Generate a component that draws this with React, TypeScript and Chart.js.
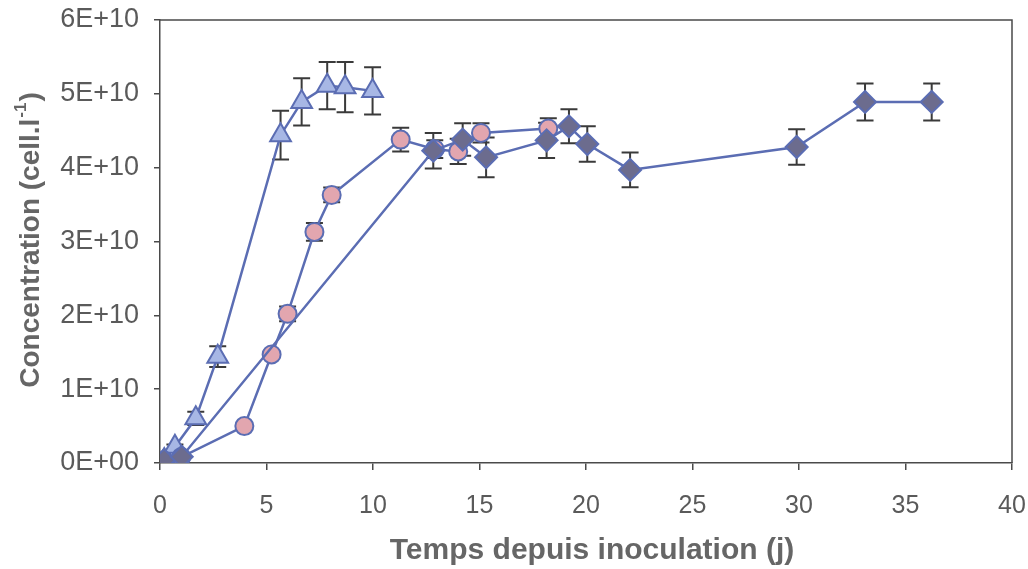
import React, { useEffect, useRef } from "react";
import { Chart, registerables } from "chart.js";

Chart.register(...registerables);

// Time since inoculation (days), concentration (cells per litre) and standard deviation
const triX = [0.2, 0.7, 1.68, 2.71, 5.66, 6.65, 7.85, 8.69, 9.98];
const triY = [0.04e10, 0.22e10, 0.605e10, 1.44e10, 4.44e10, 4.89e10, 5.11e10, 5.09e10, 5.04e10];
const triErr = [0, 0.03e10, 0.09e10, 0.14e10, 0.33e10, 0.32e10, 0.32e10, 0.34e10, 0.32e10];

const cirX = [0.2, 1.0, 3.96, 5.24, 5.99, 7.25, 8.06, 11.3, 12.9, 14.0, 15.07, 18.23];
const cirY = [0.03e10, 0.08e10, 0.5e10, 1.47e10, 2.02e10, 3.13e10, 3.63e10, 4.38e10, 4.25e10, 4.22e10, 4.47e10, 4.53e10];
const cirErr = [0, 0, 0.03e10, 0.05e10, 0.1e10, 0.12e10, 0.1e10, 0.16e10, 0.12e10, 0.17e10, 0.13e10, 0.14e10];

const diaX = [0.19, 1.02, 12.83, 14.21, 15.31, 18.15, 19.2, 20.06, 22.07, 29.89, 33.1, 36.23];
const diaY = [0.04e10, 0.085e10, 4.23e10, 4.38e10, 4.14e10, 4.37e10, 4.56e10, 4.32e10, 3.97e10, 4.28e10, 4.89e10, 4.89e10];
const diaErr = [0, 0, 0.24e10, 0.22e10, 0.27e10, 0.24e10, 0.23e10, 0.24e10, 0.235e10, 0.24e10, 0.25e10, 0.25e10];

const xTicks = [0, 5, 10, 15, 20, 25, 30, 35, 40];
const yTicks = [0, 1e10, 2e10, 3e10, 4e10, 5e10, 6e10];
const yTickLabels = ["0E+00", "1E+10", "2E+10", "3E+10", "4E+10", "5E+10", "6E+10"];

const xTitle = "Temps depuis inoculation (j)";
const yTitleMain = "Concentration (cell.l";
const yTitleSup = "-1";
const yTitleEnd = ")";

const FONT = "'Liberation Sans', Arial, sans-serif";
const LINE = "#5b6db3";
const TEXT = "#5a5a5a";
const AXIS = "#4a4a4a";

const toPoints = (xs: number[], ys: number[]) => xs.map((x, i) => ({ x, y: ys[i] }));

const errorBars = {
  id: "errorBars",
  beforeDatasetsDraw(chart: any) {
    const ctx = chart.ctx;
    const ys = chart.scales.y;
    ctx.save();
    ctx.strokeStyle = "#3a3a3a";
    ctx.lineWidth = 2;
    chart.data.datasets.forEach((ds: any, i: number) => {
      const meta = chart.getDatasetMeta(i);
      meta.data.forEach((pt: any, j: number) => {
        const e = ds.errors[j];
        if (!e) return;
        const v = ds.data[j].y;
        const top = ys.getPixelForValue(v + e);
        const bot = ys.getPixelForValue(v - e);
        const x = pt.x;
        const cap = 8.5;
        ctx.beginPath();
        ctx.moveTo(x, top);
        ctx.lineTo(x, bot);
        ctx.moveTo(x - cap, top);
        ctx.lineTo(x + cap, top);
        ctx.moveTo(x - cap, bot);
        ctx.lineTo(x + cap, bot);
        ctx.stroke();
      });
    });
    ctx.restore();
  },
};

const frameAndTitles = {
  id: "frameAndTitles",
  afterDraw(chart: any) {
    const ctx = chart.ctx;
    const a = chart.chartArea;
    ctx.save();
    ctx.strokeStyle = AXIS;
    ctx.lineWidth = 1.5;
    ctx.beginPath();
    ctx.moveTo(a.left, a.top);
    ctx.lineTo(a.right, a.top);
    ctx.lineTo(a.right, a.bottom);
    ctx.stroke();

    ctx.fillStyle = "#666666";
    ctx.textBaseline = "middle";
    ctx.textAlign = "center";
    ctx.font = `bold 30px ${FONT}`;
    ctx.fillText(xTitle, 592, 551);

    // rotated y title with superscript exponent
    ctx.translate(31, 240);
    ctx.rotate(-Math.PI / 2);
    ctx.textAlign = "left";
    const mainFont = `bold 28px ${FONT}`;
    const supFont = `bold 17px ${FONT}`;
    ctx.font = mainFont;
    const w1 = ctx.measureText(yTitleMain).width;
    const w3 = ctx.measureText(yTitleEnd).width;
    ctx.font = supFont;
    const w2 = ctx.measureText(yTitleSup).width;
    let x0 = -(w1 + w2 + w3 + 2) / 2;
    ctx.font = mainFont;
    ctx.fillText(yTitleMain, x0, 0);
    x0 += w1 + 1;
    ctx.font = supFont;
    ctx.fillText(yTitleSup, x0, -10);
    x0 += w2 + 1;
    ctx.font = mainFont;
    ctx.fillText(yTitleEnd, x0, 0);
    ctx.restore();
  },
};

export default function App() {
  const ref = useRef<HTMLCanvasElement | null>(null);

  useEffect(() => {
    document.body.style.margin = "0";
    const canvas = ref.current;
    if (!canvas) return;
    const common = {
      showLine: true,
      borderColor: LINE,
      borderWidth: 2.5,
      pointBorderColor: LINE,
      pointBorderWidth: 2,
      pointHoverRadius: 0,
    };
    const chart = new Chart(canvas, {
      type: "scatter",
      data: {
        datasets: [
          {
            ...common,
            label: "diamonds",
            data: toPoints(diaX, diaY),
            errors: diaErr,
            pointStyle: "rectRot",
            pointRadius: 11,
            pointBackgroundColor: "#6c6c8e",
          } as any,
          {
            ...common,
            label: "circles",
            data: toPoints(cirX, cirY),
            errors: cirErr,
            pointStyle: "circle",
            pointRadius: 9,
            pointBackgroundColor: "#e2a6af",
          } as any,
          {
            ...common,
            label: "triangles",
            data: toPoints(triX, triY),
            errors: triErr,
            pointStyle: "triangle",
            pointRadius: 12,
            pointBackgroundColor: "#a7b7e5",
          } as any,
        ],
      },
      options: {
        animation: false,
        responsive: false,
        events: [],
        layout: { padding: { top: 20, right: 16, left: 0, bottom: 0 } },
        plugins: {
          legend: { display: false },
          tooltip: { enabled: false },
        },
        scales: {
          x: {
            type: "linear",
            min: 0,
            max: 40,
            afterFit: (s: any) => {
              s.height = 106;
              s.paddingLeft = 0;
              s.paddingRight = 0;
            },
            afterBuildTicks: (s: any) => {
              s.ticks = xTicks.map((v) => ({ value: v }));
            },
            grid: {
              drawOnChartArea: false,
              drawTicks: true,
              tickLength: 7,
              color: AXIS,
              lineWidth: 1.5,
            },
            border: { display: true, color: AXIS, width: 1.5 },
            ticks: {
              color: TEXT,
              font: { family: FONT, size: 25 },
              padding: 21,
              maxRotation: 0,
              callback: (v: any) => String(v),
            },
          },
          y: {
            type: "linear",
            min: 0,
            max: 6e10,
            afterFit: (s: any) => {
              s.width = 160;
              s.paddingTop = 0;
              s.paddingBottom = 0;
            },
            afterBuildTicks: (s: any) => {
              s.ticks = yTicks.map((v) => ({ value: v }));
            },
            grid: {
              drawOnChartArea: false,
              drawTicks: true,
              tickLength: 6,
              color: AXIS,
              lineWidth: 1.5,
            },
            border: { display: true, color: AXIS, width: 1.5 },
            ticks: {
              color: TEXT,
              font: { family: FONT, size: 27 },
              padding: 15,
              callback: (v: any) => {
                const k = yTicks.indexOf(v);
                return k >= 0 ? yTickLabels[k] : "";
              },
            },
          },
        },
      } as any,
      plugins: [errorBars, frameAndTitles],
    });
    return () => chart.destroy();
  }, []);

  return (
    <div style={{ width: 1028, height: 569 }}>
      <canvas ref={ref} width={1028} height={569} />
    </div>
  );
}
